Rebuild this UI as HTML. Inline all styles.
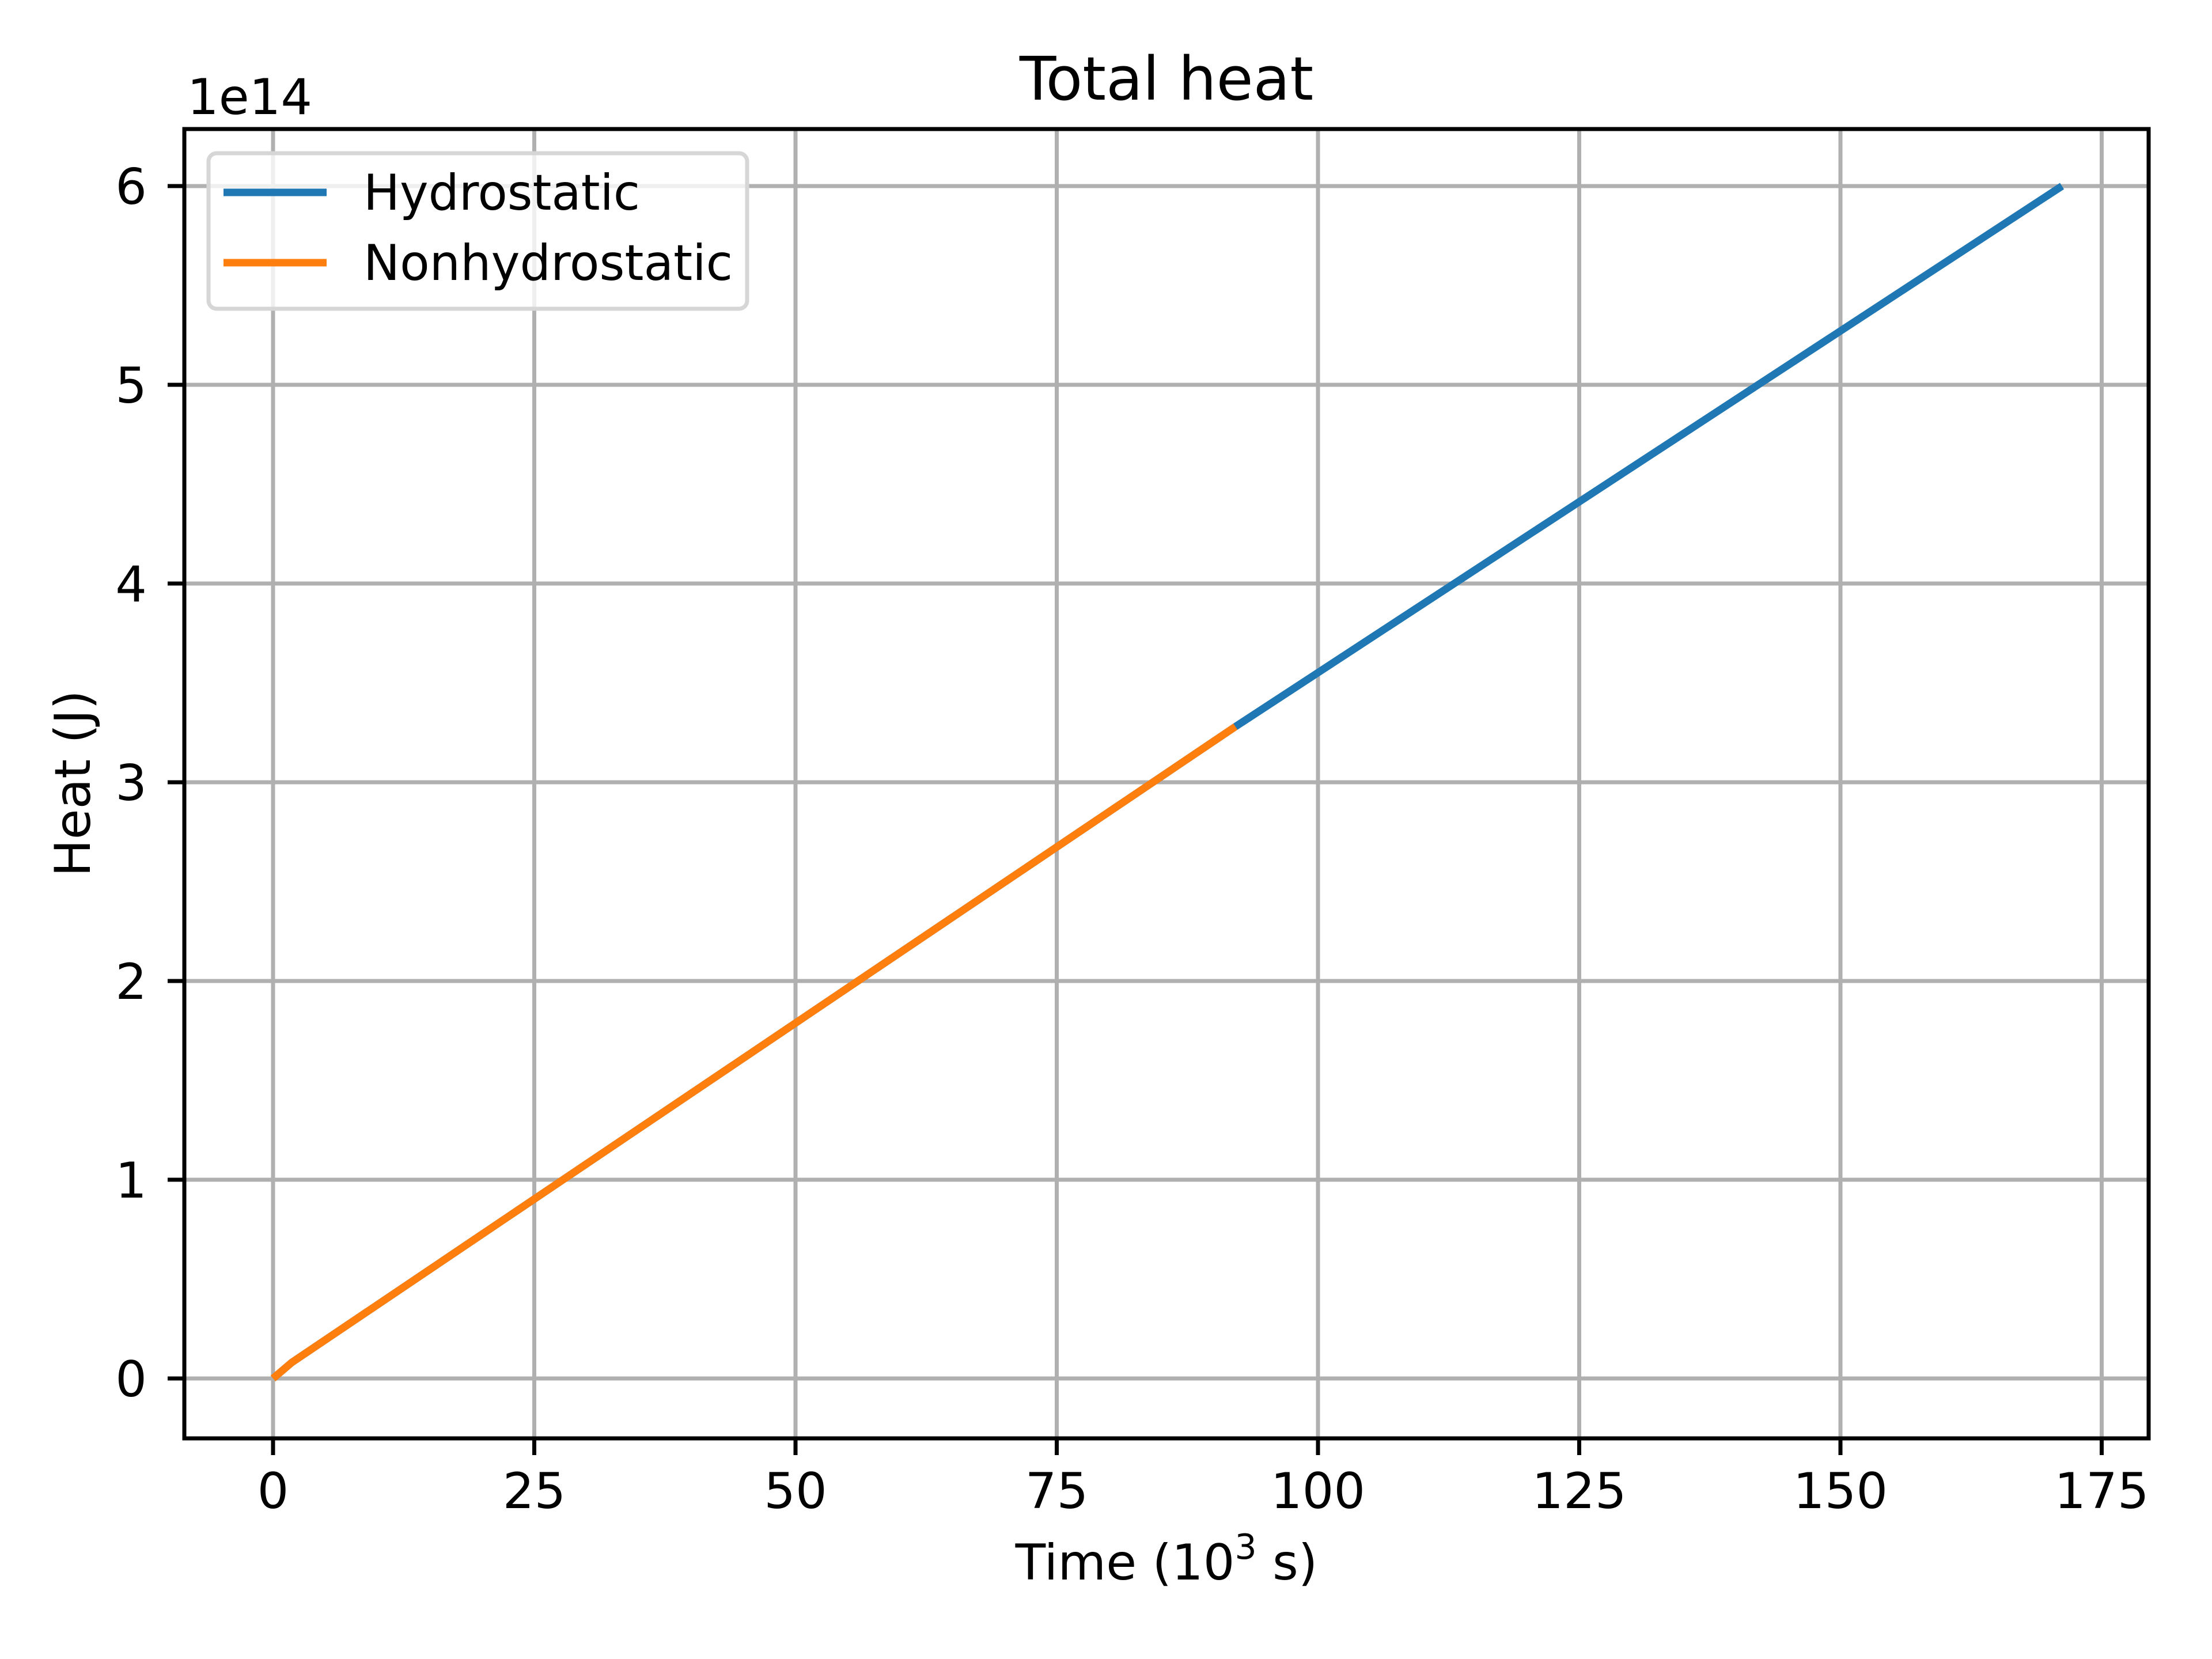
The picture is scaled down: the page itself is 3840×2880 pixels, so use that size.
<!DOCTYPE html>
<html><head><meta charset="utf-8"><style>
html,body{margin:0;padding:0;background:#fff;}
svg{display:block;font-family:"DejaVu Sans","Liberation Sans",sans-serif;}
</style></head><body>
<svg id="chart" width="3840" height="2880" viewBox="0 0 3840 2880" xmlns="http://www.w3.org/2000/svg">
<rect x="0" y="0" width="3840" height="2880" fill="#fff"/>
<g id="grid"></g>
<g id="series"></g>
<rect x="320" y="224" width="3410" height="2273" fill="none" stroke="#000" stroke-width="7"/>
<g id="ticks"></g>
<text x="2025" y="173" font-size="104" text-anchor="middle">Total heat</text>
<text x="325" y="198" font-size="86">1e14</text>
<text x="2025" y="2742" font-size="86" text-anchor="middle">Time (10<tspan dy="-36" font-size="60">3</tspan><tspan dy="36"> s)</tspan></text>
<text x="0" y="0" font-size="86" text-anchor="middle" transform="translate(156,1360) rotate(-90)">Heat (J)</text>
<g>
<rect x="362" y="266" width="935" height="270" rx="14" fill="#fff" fill-opacity="0.8" stroke="#d6d6d6" stroke-width="7"/>
<line x1="388" y1="334" x2="567" y2="334" stroke="#1f77b4" stroke-width="13"/>
<text x="631" y="364" font-size="86" textLength="480" lengthAdjust="spacingAndGlyphs">Hydrostatic</text>
<line x1="388" y1="456" x2="567" y2="456" stroke="#ff7f0e" stroke-width="13"/>
<text x="631" y="486" font-size="86" textLength="641" lengthAdjust="spacingAndGlyphs">Nonhydrostatic</text>
</g>
</svg>
<script>
const xTicks = [0, 25, 50, 75, 100, 125, 150, 175];
const yTicks = [0, 1, 2, 3, 4, 5, 6];
const hydroTime = [0, 1.8, 92.1, 171.2];
const hydroHeat = [0, 0.081, 3.28, 6.0];
const nonhydroTime = [0, 1.8, 92.1];
const nonhydroHeat = [0, 0.081, 3.28];

const NS = "http://www.w3.org/2000/svg";
const X0 = 474, XS = 18.14, Y0 = 2393, YS = 345;
function xs(v){ return X0 + v * XS; }
function ys(v){ return Y0 - v * YS; }
const L = 320, R = 3730, T = 224, B = 2497;
const grid = document.getElementById('grid');
const ticks = document.getElementById('ticks');
function mk(tag, attrs, parent){
  const e = document.createElementNS(NS, tag);
  for (const k in attrs) e.setAttribute(k, attrs[k]);
  parent.appendChild(e);
  return e;
}
xTicks.forEach(v => {
  const x = xs(v);
  const g = mk('line', {x1:x, y1:T, x2:x, y2:B, stroke:'#b0b0b0', 'stroke-width':7}, grid);
  
  
  const t = mk('line', {x1:x, y1:B, x2:x, y2:B+29, stroke:'#000', 'stroke-width':7}, ticks);
  
  
  const lb = mk('text', {x:x, y:2618, 'font-size':86, 'text-anchor':'middle'}, ticks);
  lb.textContent = String(v);
  
  
});
yTicks.forEach(v => {
  const y = ys(v);
  const g = mk('line', {x1:L, y1:y, x2:R, y2:y, stroke:'#b0b0b0', 'stroke-width':7}, grid);
  
  
  const t = mk('line', {x1:L-29, y1:y, x2:L, y2:y, stroke:'#000', 'stroke-width':7}, ticks);
  
  
  const lb = mk('text', {x:255, y:y+31, 'font-size':86, 'text-anchor':'end'}, ticks);
  lb.textContent = String(v);
  
  
});
const series = document.getElementById('series');
function pts(xa, ya){ return xa.map((x,i)=> xs(x).toFixed(1)+','+ys(ya[i]).toFixed(1)).join(' '); }
const h = mk('polyline', {points:pts(hydroTime, hydroHeat), fill:'none', stroke:'#1f77b4', 'stroke-width':13, 'stroke-linejoin':'round'}, series);


const n = mk('polyline', {points:pts(nonhydroTime, nonhydroHeat), fill:'none', stroke:'#ff7f0e', 'stroke-width':13, 'stroke-linejoin':'round'}, series);


</script>
</body></html>
